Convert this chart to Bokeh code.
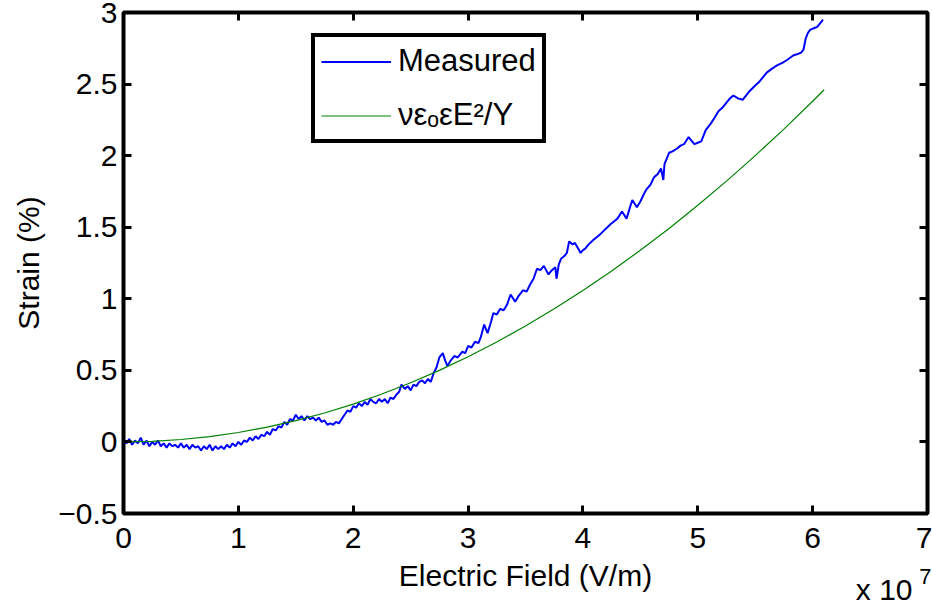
from bokeh.plotting import figure
from bokeh.models import Range1d, LinearAxis, FixedTicker, Legend, LegendItem, Title
from bokeh.embed import file_html
from bokeh.resources import INLINE

# Measured strain: x in units of 1e7 V/m, y in %
meas_x = [0.000, 0.025, 0.050, 0.075, 0.100, 0.125, 0.150, 0.175, 0.200, 0.225,
          0.250, 0.275, 0.300, 0.325, 0.350, 0.375, 0.400, 0.425, 0.450, 0.475,
          0.500, 0.525, 0.550, 0.575, 0.600, 0.625, 0.650, 0.675, 0.700, 0.725,
          0.750, 0.775, 0.800, 0.825, 0.850, 0.875, 0.900, 0.925, 0.950, 0.975,
          1.000, 1.025, 1.050, 1.075, 1.100, 1.125, 1.150, 1.175, 1.200, 1.225,
          1.250, 1.275, 1.300, 1.325, 1.350, 1.375, 1.400, 1.425, 1.450, 1.475,
          1.500, 1.525, 1.550, 1.575, 1.600, 1.625, 1.650, 1.675, 1.700, 1.725,
          1.750, 1.775, 1.800, 1.825, 1.850, 1.875, 1.900, 1.925, 1.950, 1.975,
          2.000, 2.025, 2.050, 2.075, 2.100, 2.125, 2.150, 2.175, 2.200, 2.225,
          2.250, 2.275, 2.300, 2.325, 2.350, 2.375, 2.400, 2.420, 2.450, 2.475,
          2.500, 2.525, 2.550, 2.575, 2.600, 2.625, 2.650, 2.675, 2.700, 2.725,
          2.750, 2.780, 2.800, 2.820, 2.850, 2.880, 2.910, 2.950, 2.975, 3.000,
          3.030, 3.060, 3.090, 3.110, 3.140, 3.170, 3.200, 3.220, 3.250, 3.280,
          3.310, 3.340, 3.370, 3.410, 3.440, 3.480, 3.510, 3.540, 3.570, 3.600,
          3.630, 3.660, 3.700, 3.730, 3.760, 3.770, 3.790, 3.810, 3.840, 3.860,
          3.880, 3.910, 3.930, 3.960, 3.980, 4.000, 4.020, 4.050, 4.090, 4.120,
          4.150, 4.200, 4.240, 4.270, 4.300, 4.340, 4.380, 4.410, 4.430, 4.470,
          4.500, 4.530, 4.550, 4.590, 4.620, 4.650, 4.680, 4.700, 4.710, 4.750,
          4.780, 4.820, 4.850, 4.880, 4.920, 4.950, 4.970, 5.000, 5.030, 5.070,
          5.110, 5.150, 5.180, 5.220, 5.250, 5.280, 5.310, 5.350, 5.390, 5.420,
          5.450, 5.500, 5.540, 5.570, 5.600, 5.650, 5.690, 5.740, 5.780, 5.830,
          5.870, 5.900, 5.920, 5.940, 5.960, 5.980, 6.010, 6.040, 6.070, 6.090]
meas_y = [0.01, -0.01, 0.02, -0.02, 0.01, -0.01, 0.03, -0.02, 0.01, -0.03,
          0.00, -0.02, 0.01, -0.03, -0.01, -0.04, -0.01, -0.03, -0.02, -0.04,
          -0.01, -0.04, -0.02, -0.05, -0.02, -0.04, -0.03, -0.06, -0.03, -0.05,
          -0.02, -0.06, -0.03, -0.05, -0.03, -0.05, -0.02, -0.04, -0.01, -0.03,
          0.00, -0.02, 0.01, 0.00, 0.03, 0.01, 0.04, 0.02, 0.05, 0.04,
          0.07, 0.05, 0.09, 0.08, 0.11, 0.10, 0.14, 0.12, 0.16, 0.15,
          0.19, 0.16, 0.18, 0.15, 0.18, 0.16, 0.17, 0.15, 0.17, 0.14,
          0.15, 0.12, 0.13, 0.12, 0.14, 0.13, 0.16, 0.19, 0.22, 0.21,
          0.25, 0.24, 0.27, 0.25, 0.28, 0.26, 0.30, 0.28, 0.27, 0.30,
          0.28, 0.30, 0.27, 0.31, 0.30, 0.33, 0.35, 0.40, 0.37, 0.39,
          0.36, 0.40, 0.39, 0.42, 0.43, 0.41, 0.44, 0.42, 0.48, 0.52,
          0.59, 0.62, 0.57, 0.53, 0.57, 0.60, 0.59, 0.63, 0.62, 0.67,
          0.66, 0.70, 0.69, 0.73, 0.82, 0.76, 0.84, 0.90, 0.89, 0.93,
          0.92, 0.96, 1.03, 0.98, 1.02, 1.06, 1.05, 1.10, 1.14, 1.21,
          1.20, 1.23, 1.17, 1.20, 1.22, 1.14, 1.24, 1.28, 1.30, 1.32,
          1.40, 1.38, 1.39, 1.35, 1.32, 1.34, 1.35, 1.38, 1.41, 1.43,
          1.45, 1.49, 1.52, 1.54, 1.56, 1.61, 1.56, 1.64, 1.69, 1.64,
          1.68, 1.73, 1.76, 1.80, 1.85, 1.87, 1.91, 1.83, 1.94, 2.02,
          2.03, 2.05, 2.07, 2.08, 2.13, 2.10, 2.08, 2.09, 2.10, 2.18,
          2.22, 2.27, 2.31, 2.34, 2.37, 2.40, 2.42, 2.40, 2.39, 2.42,
          2.45, 2.49, 2.52, 2.55, 2.58, 2.61, 2.63, 2.65, 2.67, 2.70,
          2.71, 2.72, 2.74, 2.82, 2.86, 2.88, 2.89, 2.90, 2.93, 2.95]

# Model curve nu*eps0*eps*E^2/Y
fit_x = [0.0, 0.25, 0.5, 0.75, 1.0, 1.25, 1.5, 1.75, 2.0, 2.25, 2.5, 2.75, 3.0, 3.25,
         3.5, 3.75, 4.0, 4.25, 4.5, 4.75, 5.0, 5.25, 5.5, 5.75, 6.0, 6.1]
fit_y = [0.0, 0.004, 0.017, 0.037, 0.066, 0.103, 0.149, 0.202, 0.264, 0.335, 0.413, 0.50, 0.595, 0.698,
         0.81, 0.93, 1.058, 1.194, 1.339, 1.491, 1.653, 1.822, 2.00, 2.185, 2.38, 2.46]

x_ticks = [0, 1, 2, 3, 4, 5, 6, 7]
x_tick_labels = ["0", "1", "2", "3", "4", "5", "6", "7"]
y_ticks = [-0.5, 0, 0.5, 1, 1.5, 2, 2.5, 3]
y_tick_labels = ["\u22120.5", "0", "0.5", "1", "1.5", "2", "2.5", "3"]

FONT = "Liberation Sans"

p = figure(width=932, height=608, output_backend="svg", toolbar_location=None,
           x_range=Range1d(0, 7), y_range=Range1d(-0.5, 3),
           min_border_left=123, min_border_right=5, min_border_top=12, min_border_bottom=95,
           background_fill_color="white", border_fill_color="white")
p.xgrid.visible = False
p.ygrid.visible = False
p.outline_line_color = "black"
p.outline_line_width = 4

r1 = p.line(meas_x, meas_y, line_color="#0000FF", line_width=2)
r2 = p.line(fit_x, fit_y, line_color="#008000", line_width=1.2)

xa = p.xaxis[0]
xa.ticker = FixedTicker(ticks=x_ticks)
xa.major_label_overrides = {float(t): s for t, s in zip(x_ticks, x_tick_labels)}
ya = p.yaxis[0]
ya.ticker = FixedTicker(ticks=y_ticks)
ya.major_label_overrides = {float(t): s for t, s in zip(y_ticks, y_tick_labels)}

for ax in (xa, ya):
    ax.axis_line_color = None
    ax.major_tick_in = 8
    ax.major_tick_out = 0
    ax.major_tick_line_width = 3
    ax.minor_tick_line_color = None
    ax.major_label_text_font = FONT
    ax.major_label_text_font_size = "30px"
    ax.major_label_text_color = "black"
    ax.axis_label_text_font = FONT
    ax.axis_label_text_font_size = "30px"
    ax.axis_label_text_font_style = "normal"
    ax.axis_label_text_color = "black"

xa.axis_label = "Electric Field (V/m)"
ya.axis_label = "Strain (%)"
xa.major_label_standoff = 14
ya.major_label_standoff = 6
xa.axis_label_standoff = 8
ya.axis_label_standoff = 10

top = LinearAxis(ticker=FixedTicker(ticks=x_ticks),
                 major_label_overrides={float(t): "" for t in x_ticks})
right = LinearAxis(ticker=FixedTicker(ticks=y_ticks),
                   major_label_overrides={float(t): "" for t in y_ticks})
for ax in (top, right):
    ax.axis_line_color = None
    ax.major_tick_in = 8
    ax.major_tick_out = 0
    ax.major_tick_line_width = 3
    ax.minor_tick_line_color = None
    ax.major_label_standoff = 0
p.add_layout(top, "above")
p.add_layout(right, "right")

legend = Legend(items=[LegendItem(label="Measured", renderers=[r1]),
                       LegendItem(label="\u03bd\u03b5\u2092\u03b5E\u00b2/Y", renderers=[r2])],
                location=(188, 370))
legend.label_text_font = FONT
legend.label_text_font_size = "31px"
legend.label_text_color = "black"
legend.glyph_width = 70
legend.glyph_height = 35
legend.label_height = 35
legend.label_width = 138
legend.label_standoff = 7
legend.spacing = 18
legend.padding = 6
legend.margin = 0
legend.border_line_color = "black"
legend.border_line_alpha = 1
legend.border_line_width = 4
legend.background_fill_color = "white"
legend.background_fill_alpha = 1
p.add_layout(legend, "center")

# exponent note under the x axis ("x 10^7"), as titles in the below panel
t_base = Title(text="x 10", align="right", vertical_align="top", offset=15, standoff=-44,
               text_font=FONT, text_font_size="30px", text_font_style="normal",
               text_color="black")
t_exp = Title(text="7", align="right", vertical_align="top", offset=-4, standoff=-52,
              text_font=FONT, text_font_size="22px", text_font_style="normal",
              text_color="black")
p.add_layout(t_base, "below")
p.add_layout(t_exp, "below")

open("out.html", "w").write(file_html(p, INLINE))
